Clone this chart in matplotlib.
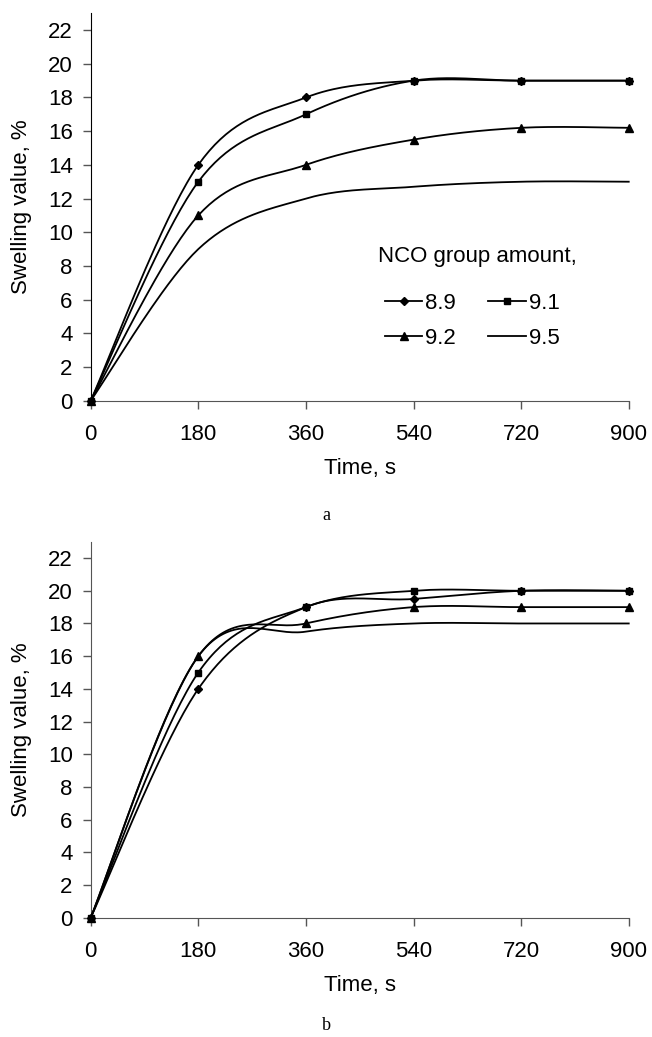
import numpy as np
import matplotlib.pyplot as plt
from matplotlib.lines import Line2D

plt.rcParams['font.family'] = ['Liberation Sans', 'DejaVu Sans']

# data
time_s = [0, 180, 360, 540, 720, 900]
nco_labels = ['8.9', '9.1', '9.2', '9.5']

swell_a = {
    '8.9': [0, 14, 18, 19, 19, 19],
    '9.1': [0, 13, 17, 19, 19, 19],
    '9.2': [0, 11, 14, 15.5, 16.2, 16.2],
    '9.5': [0, 9, 12, 12.7, 13, 13],
}
swell_b = {
    '8.9': [0, 14, 19, 19.5, 20, 20],
    '9.1': [0, 15, 19, 20, 20, 20],
    '9.2': [0, 16, 18, 19, 19, 19],
    '9.5': [0, 16, 17.5, 18, 18, 18],
}

markers = {'8.9': ('D', 4.5), '9.1': ('s', 5), '9.2': ('^', 6), '9.5': (None, 0)}


def excel_smooth(x, y, n=40):
    # bezier spline like the "smoothed line" option of a spreadsheet
    x = np.asarray(x, float)
    y = np.asarray(y, float)
    px, py = [], []
    m = len(x)
    for i in range(m - 1):
        x0, y0 = (x[i - 1], y[i - 1]) if i > 0 else (x[i], y[i])
        x3, y3 = (x[i + 2], y[i + 2]) if i + 2 < m else (x[i + 1], y[i + 1])
        c1x = x[i] + (x[i + 1] - x0) / 6
        c1y = y[i] + (y[i + 1] - y0) / 6
        c2x = x[i + 1] - (x3 - x[i]) / 6
        c2y = y[i + 1] - (y3 - y[i]) / 6
        t = np.linspace(0, 1, n)
        b0, b1, b2, b3 = (1 - t) ** 3, 3 * t * (1 - t) ** 2, 3 * t ** 2 * (1 - t), t ** 3
        px.extend(b0 * x[i] + b1 * c1x + b2 * c2x + b3 * x[i + 1])
        py.extend(b0 * y[i] + b1 * c1y + b2 * c2y + b3 * y[i + 1])
    return px, py


fs = 16
fig = plt.figure(figsize=(6.52, 10.37), dpi=100)
ax_a = fig.add_axes([0.1391, 0.6136, 0.8252, 0.3736])
ax_b = fig.add_axes([0.1391, 0.1150, 0.8252, 0.3626])

for ax, data in [(ax_a, swell_a), (ax_b, swell_b)]:
    for lab in nco_labels:
        sx, sy = excel_smooth(time_s, data[lab])
        ax.plot(sx, sy, color='black', lw=1.3, clip_on=False, zorder=3)
        mk, ms = markers[lab]
        if mk:
            ax.plot(time_s, data[lab], ls='none', marker=mk, ms=ms, color='black',
                    clip_on=False, zorder=4)
    ax.set_xlim(0, 900)
    ax.set_ylim(0, 23)
    ax.set_xticks(time_s)
    ax.set_yticks(np.arange(0, 23, 2))
    ax.spines['top'].set_visible(False)
    ax.spines['right'].set_visible(False)
    ax.spines['left'].set_color('black')
    ax.spines['bottom'].set_color('#555555')
    ax.tick_params(axis='both', direction='out', length=6, width=1, color='#555555',
                   labelsize=fs)
    ax.tick_params(axis='y', pad=7)
    ax.tick_params(axis='x', pad=11)
    ax.set_xlabel('Time, s', fontsize=fs, labelpad=9)
    ax.set_ylabel('Swelling value, %', fontsize=fs)
    ax.yaxis.set_label_coords(-0.109, 0.5)

ax_b.spines['left'].set_color('#555555')

# legend is filled column by column, so order the handles to read row by row
handles = {}
for lab in nco_labels:
    mk, ms = markers[lab]
    handles[lab] = Line2D([0], [0], color='black', lw=1.3, marker=mk, ms=ms, label=lab)
order = ['8.9', '9.2', '9.1', '9.5']
ax_a.legend(handles=[handles[k] for k in order], ncol=2, frameon=False,
            loc='center left', bbox_to_anchor=(0.547, 0.207), borderpad=0,
            borderaxespad=0, fontsize=fs, handlelength=1.67, handletextpad=0.15,
            columnspacing=1.45, labelspacing=0.63)
ax_a.text(0.534, 0.371, 'NCO group amount,', transform=ax_a.transAxes,
          ha='left', va='center', fontsize=fs)

fig.text(0.5, 1 - 515 / 1037, 'a', ha='center', va='center', fontsize=13,
         family=['Liberation Serif'])
fig.text(0.5, 1 - 1025 / 1037, 'b', ha='center', va='center', fontsize=13,
         family=['Liberation Serif'])

fig.savefig('out.png', dpi=100)
